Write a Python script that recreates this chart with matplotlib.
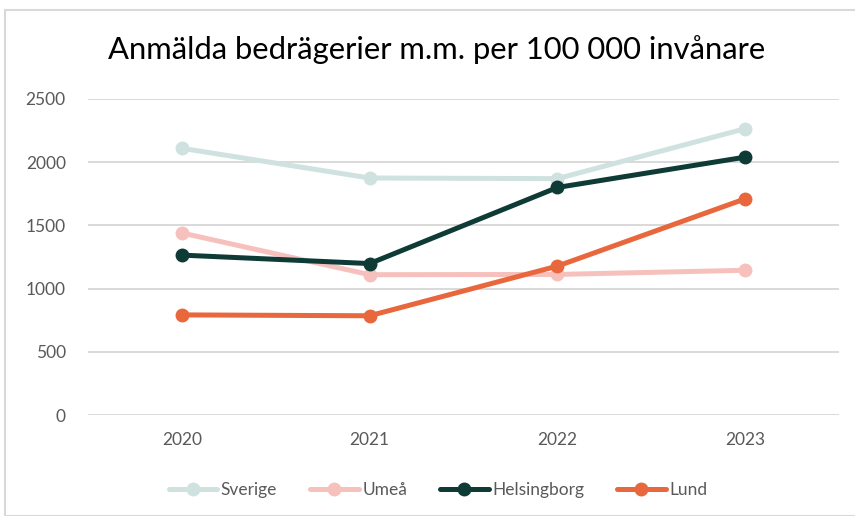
import matplotlib.pyplot as plt
from matplotlib.patches import Rectangle

years = ['2020', '2021', '2022', '2023']
sverige = [2110, 1875, 1870, 2265]
umea = [1440, 1110, 1112, 1145]
helsingborg = [1265, 1198, 1800, 2040]
lund = [792, 785, 1178, 1710]

series = [
    ('Sverige', sverige, '#cfe2df'),
    ('Umeå', umea, '#f6c1bd'),
    ('Helsingborg', helsingborg, '#0e3b36'),
    ('Lund', lund, '#e8673c'),
]

plt.rcParams['font.family'] = ['Lato', 'DejaVu Sans']

fig = plt.figure(figsize=(8.55, 5.16), dpi=100)
fig.patches.append(Rectangle((5 / 855, 0), 1, 1 - 10 / 516, transform=fig.transFigure,
                             fill=False, edgecolor='#d9d9d9', linewidth=1.5))
ax = fig.add_axes([88 / 855, 1 - 415 / 516, (839 - 88) / 855, (415 - 99) / 516])

x = list(range(len(years)))
for name, vals, col in series:
    ax.plot(x, vals, color=col, linewidth=3.6, marker='o', markersize=9,
            label=name, solid_capstyle='round')

ax.set_xlim(-0.5, 3.5)
ax.set_ylim(0, 2500)
ax.set_yticks(range(0, 2501, 500))
ax.set_xticks(x)
ax.set_xticklabels(years)
ax.grid(axis='y', color='#d9d9d9', linewidth=1.4)
ax.set_axisbelow(True)
for s in ax.spines.values():
    s.set_visible(False)
ax.tick_params(length=0, labelsize=12.5, colors='#595959', pad=12)
ax.tick_params(axis='y', pad=16)

fig.text(437 / 855, 1 - 50 / 516, 'Anmälda bedrägerier m.m. per 100 000 invånare',
         ha='center', va='center', fontsize=22.3, color='black')

fig.legend(loc='center', bbox_to_anchor=(438 / 855, 1 - 490 / 516), ncol=4, frameon=False,
           fontsize=12.5, labelcolor='#595959', handlelength=2.8, handletextpad=0.2,
           columnspacing=1.9)

fig.savefig('out.png', dpi=100)
